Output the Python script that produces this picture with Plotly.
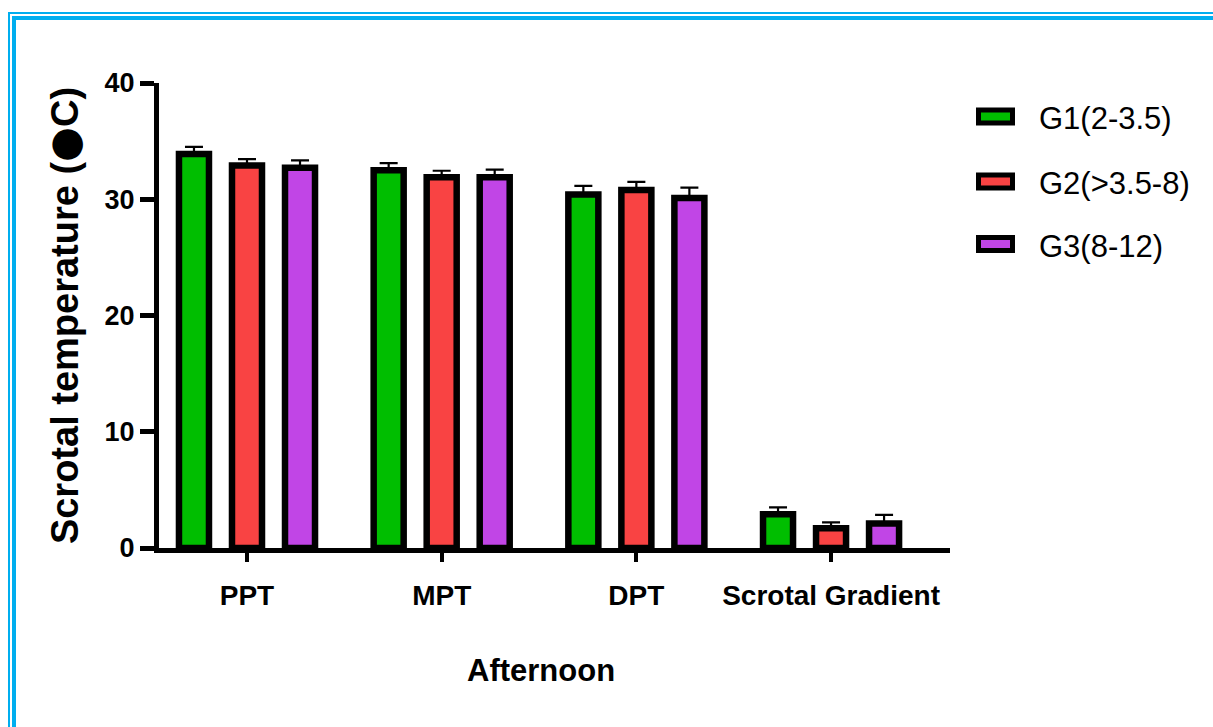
import plotly.graph_objects as go

# Afternoon scrotal temperature by age group (mean ± SEM)
categories = ["PPT", "MPT", "DPT", "Scrotal Gradient"]
groups = ["G1(2-3.5)", "G2(>3.5-8)", "G3(8-12)"]
g1_mean = [33.9, 32.5, 30.4, 2.9]
g2_mean = [32.9, 31.9, 30.8, 1.7]
g3_mean = [32.7, 31.9, 30.1, 2.1]
g1_sem = [0.6, 0.6, 0.75, 0.6]
g2_sem = [0.55, 0.55, 0.7, 0.5]
g3_sem = [0.65, 0.65, 0.9, 0.75]
y_ticks = [0, 10, 20, 30, 40]

colors = ["#00BE00", "#F94343", "#C145E6"]

W, H = 1213, 727
L, R, T, B = 159, 950, 83, 548  # plot area edges in pixels


def px_x(px):
    return (px - L) / (R - L)


def px_y(py):
    return (B - py) / (B - T)


font = "Liberation Sans, Arial"

fig = go.Figure()
for name, mean, sem, col in zip(groups, [g1_mean, g2_mean, g3_mean],
                                [g1_sem, g2_sem, g3_sem], colors):
    fig.add_trace(go.Bar(
        x=categories, y=mean, name=name,
        marker=dict(color=col, line=dict(color="black", width=6.5)),
        error_y=dict(type="data", array=sem, arrayminus=[0] * len(sem),
                     symmetric=False, color="black", thickness=2.2, width=9),
        showlegend=False,
    ))

# Legend drawn as boxed swatches with labels
legend_y = [116.5, 181.5, 244]
shapes = []
annotations = []
for name, col, yc in zip(groups, colors, legend_y):
    shapes.append(dict(type="rect", xref="paper", yref="paper",
                       x0=px_x(978.5), x1=px_x(1012.5),
                       y0=px_y(yc - 6.5), y1=px_y(yc + 6.5),
                       fillcolor=col, line=dict(color="black", width=5)))
    annotations.append(dict(text=name, xref="paper", yref="paper",
                            x=px_x(1037), y=px_y(yc + 2), xanchor="left",
                            yanchor="middle", showarrow=False,
                            font=dict(family=font, size=31, color="black")))

# x-axis caption
annotations.append(dict(text="<b>Afternoon</b>", xref="paper", yref="paper",
                        x=px_x(541), y=px_y(670), xanchor="center",
                        yanchor="middle", showarrow=False,
                        font=dict(family=font, size=31, color="black")))

# Double blue frame along the top and left edges
frame = "#00AEEF"
shapes += [
    dict(type="line", xref="paper", yref="paper", x0=px_x(9), x1=px_x(W + 5),
         y0=px_y(13), y1=px_y(13), line=dict(color=frame, width=2)),
    dict(type="line", xref="paper", yref="paper", x0=px_x(14), x1=px_x(W + 5),
         y0=px_y(18), y1=px_y(18), line=dict(color=frame, width=4)),
    dict(type="line", xref="paper", yref="paper", x0=px_x(9), x1=px_x(9),
         y0=px_y(12), y1=px_y(H + 5), line=dict(color=frame, width=2)),
    dict(type="line", xref="paper", yref="paper", x0=px_x(14), x1=px_x(14),
         y0=px_y(16), y1=px_y(H + 5), line=dict(color=frame, width=4)),
]

y_title = ('<b>Scrotal temperature (<span style="font-family:DejaVu Sans;'
           'font-size:40px">●</span>C)</b>')

fig.update_layout(
    width=W, height=H,
    margin=dict(l=L, r=W - R, t=T, b=H - B, pad=0),
    paper_bgcolor="white", plot_bgcolor="white",
    barmode="group", bargap=0.183, bargroupgap=0.434,
    shapes=shapes, annotations=annotations,
    xaxis=dict(
        range=[-0.452, 3.611], showline=True, linecolor="black", linewidth=5,
        ticks="outside", ticklen=9, tickwidth=4, tickcolor="black",
        showgrid=False, zeroline=False, ticklabelstandoff=9,
        tickfont=dict(family=font, size=28, color="black", weight="bold"),
    ),
    yaxis=dict(
        range=[0, 40], tickvals=y_ticks, showline=True, linecolor="black",
        linewidth=5, ticks="outside", ticklen=14, tickwidth=4.5,
        tickcolor="black", showgrid=False, zeroline=False,
        tickfont=dict(family=font, size=27, color="black", weight="bold"),
        title=dict(text=y_title, standoff=16,
                   font=dict(family=font, size=38, color="black")),
    ),
)

fig.write_html("out.html")
